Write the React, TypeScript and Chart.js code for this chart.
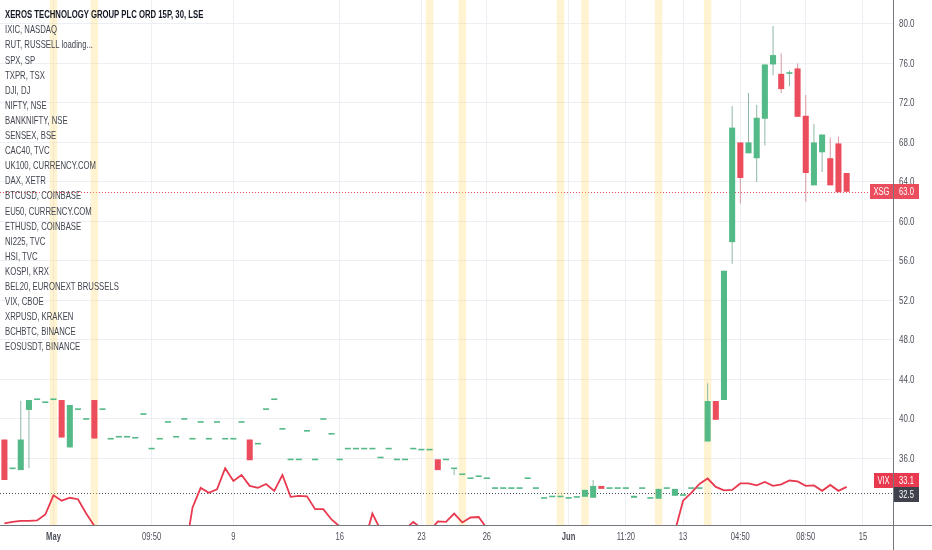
import React, { useEffect, useRef } from "react";
import { Chart, registerables } from "chart.js";

Chart.register(...registerables);

const FONT = "'Liberation Sans', Arial, sans-serif";
const NARROW = 0.76;

const LEGEND_TITLE = "XEROS TECHNOLOGY GROUP PLC ORD 15P, 30, LSE";
const LEGEND_ITEMS = [
  "IXIC, NASDAQ",
  "RUT, RUSSELL loading...",
  "SPX, SP",
  "TXPR, TSX",
  "DJI, DJ",
  "NIFTY, NSE",
  "BANKNIFTY, NSE",
  "SENSEX, BSE",
  "CAC40, TVC",
  "UK100, CURRENCY.COM",
  "DAX, XETR",
  "BTCUSD, COINBASE",
  "EU50, CURRENCY.COM",
  "ETHUSD, COINBASE",
  "NI225, TVC",
  "HSI, TVC",
  "KOSPI, KRX",
  "BEL20, EURONEXT BRUSSELS",
  "VIX, CBOE",
  "XRPUSD, KRAKEN",
  "BCHBTC, BINANCE",
  "EOSUSDT, BINANCE",
];

const SYMBOL = "XSG";
const VIX_NAME = "VIX";
const VIX_PREV = 32.5;

const OPEN = [
  37.9, 34.9, 34.8, 40.9, 41.9, 41.6, 41.9, 41.9, 37.1, 40.9,
  39.9, 41.9, 40.9, 37.9, 38.1, 38.1, 38.0, 40.4, 36.9, 37.9,
  39.6, 38.1, 39.9, 37.9, 39.6, 37.9, 39.6, 37.9, 37.9, 39.6,
  37.9, 37.4, 40.9, 41.9, 38.9, 35.8, 35.8, 38.7, 35.8, 39.9,
  38.4, 35.8, 36.9, 36.9, 36.9, 36.9, 36.0, 36.9, 35.8, 35.8,
  36.9, 36.8, 36.8, 35.9, 35.8, 34.9, 34.3, 33.9, 34.1, 33.9,
  32.9, 32.9, 32.9, 32.9, 33.9, 32.9, 31.9, 32.05, 32.05, 31.9,
  32.0, 32.1, 32.0, 33.2, 32.9, 32.9, 32.9, 32.0, 32.9, 31.9,
  31.9, 32.9, 32.2, 32.2, 32.9, 32.9, 37.7, 41.8, 41.9, 57.9,
  68.0, 66.9, 66.4, 70.4, 75.9, 74.95, 74.95, 75.5, 70.7, 63.65,
  67.0, 66.4, 67.9, 64.9,
];
const HIGH = [
  37.9, 34.9, 41.8, 41.9, 41.9, 41.6, 41.9, 41.9, 41.4, 40.9,
  39.9, 41.9, 40.9, 37.9, 38.1, 38.1, 38.0, 40.4, 36.9, 37.9,
  39.6, 38.1, 39.9, 37.9, 39.6, 37.9, 39.6, 37.9, 37.9, 39.6,
  37.9, 37.4, 40.9, 41.9, 38.9, 35.8, 35.8, 38.7, 35.8, 39.9,
  38.4, 35.8, 36.9, 36.9, 36.9, 36.9, 36.0, 36.9, 35.8, 35.8,
  36.9, 36.8, 36.8, 35.9, 35.8, 34.9, 34.3, 33.9, 34.1, 33.9,
  32.9, 32.9, 32.9, 32.9, 33.9, 32.9, 31.9, 32.05, 32.05, 31.9,
  32.0, 32.8, 33.8, 33.2, 32.9, 32.9, 32.9, 32.2, 32.9, 31.9,
  32.9, 32.9, 32.9, 32.2, 32.9, 32.9, 43.6, 41.8, 55.0, 71.7,
  68.0, 73.0, 71.8, 75.9, 79.8, 77.0, 75.3, 76.0, 72.8, 69.9,
  68.8, 68.5, 68.6, 64.9,
];
const LOW = [
  33.8, 34.9, 34.8, 35.0, 41.9, 41.6, 41.9, 38.1, 37.1, 40.9,
  39.9, 38.0, 40.9, 37.9, 38.1, 38.1, 38.0, 40.4, 36.9, 37.9,
  39.6, 38.1, 39.9, 37.9, 39.6, 37.9, 39.6, 37.9, 37.9, 39.6,
  35.8, 37.4, 40.9, 41.9, 38.9, 35.8, 35.8, 38.7, 35.8, 39.9,
  38.4, 35.8, 36.9, 36.9, 36.9, 36.9, 36.0, 36.9, 35.8, 35.8,
  36.9, 36.8, 36.8, 34.8, 35.8, 34.3, 34.3, 33.9, 34.1, 33.9,
  32.9, 32.9, 32.9, 32.9, 33.9, 32.9, 31.9, 32.05, 32.05, 31.9,
  32.0, 32.1, 32.0, 32.9, 32.9, 32.9, 32.9, 32.0, 32.9, 31.9,
  31.9, 32.9, 32.2, 32.2, 32.9, 32.9, 37.7, 39.9, 41.9, 55.7,
  61.8, 66.9, 64.0, 67.7, 74.8, 73.0, 73.7, 70.6, 62.0, 63.65,
  65.0, 63.65, 62.95, 63.0,
];
const CLOSE = [
  33.8, 34.9, 37.9, 41.9, 41.9, 41.6, 41.9, 38.1, 41.4, 40.9,
  39.9, 38.0, 40.9, 37.9, 38.1, 38.1, 38.0, 40.4, 36.9, 37.9,
  39.6, 38.1, 39.9, 37.9, 39.6, 37.9, 39.6, 37.9, 37.9, 39.6,
  35.8, 37.4, 40.9, 41.9, 38.9, 35.8, 35.8, 38.7, 35.8, 39.9,
  38.4, 35.8, 36.9, 36.9, 36.9, 36.9, 36.0, 36.9, 35.8, 35.8,
  36.9, 36.8, 36.8, 34.8, 35.8, 34.9, 34.3, 33.9, 34.1, 33.9,
  32.9, 32.9, 32.9, 32.9, 33.9, 32.9, 31.9, 32.05, 32.05, 31.9,
  32.0, 32.8, 33.2, 32.9, 32.9, 32.9, 32.9, 32.2, 32.9, 31.9,
  32.9, 32.9, 32.9, 32.2, 32.9, 32.9, 41.8, 39.9, 55.0, 69.5,
  64.4, 68.0, 70.5, 75.9, 76.85, 73.4, 75.1, 70.6, 64.9, 68.0,
  68.8, 63.65, 62.95, 63.0,
];
const VIX = [
  29.4, 29.55, 29.65, 29.65, 29.7, 30.3, 32.25, 31.7, 32.0, 31.85,
  30.4, 29.15, 28.4, 28.1, 27.6, 27.9, 28.3, 28.0, 27.5, 27.2,
  27.4, 27.0, 25.9, 31.0, 33.0, 32.5, 32.85, 35.0, 33.7, 34.3,
  33.2, 33.0, 33.4, 32.7, 34.3, 32.1, 32.2, 32.15, 30.85, 30.85,
  29.8, 29.1, 28.3, 28.0, 27.4, 30.4, 28.75, 28.2, 28.0, 28.8,
  29.55, 28.9, 28.6, 29.6, 29.55, 30.4, 29.5, 30.0, 30.05, 28.9,
  28.5, 28.2, 28.0, 27.6, 27.3, 27.0, 26.8, 27.1, 27.4, 27.2,
  26.9, 26.6, 26.4, 26.7, 26.9, 27.2, 27.5, 27.8, 28.0, 28.2,
  28.4, 28.5, 28.6, 31.7, 32.5, 33.4, 33.95, 33.1, 32.75, 32.8,
  33.45, 33.45, 33.25, 33.6, 33.2, 33.35, 33.75, 33.65, 33.2, 33.25,
  32.7, 33.3, 32.7, 33.1,
];

const HIGHLIGHT_BARS = [6, 11, 52, 56, 68, 71, 80, 86];
const X_TICK_INDEX = [6, 18, 28, 41, 51, 59, 69, 76, 83, 90, 98, 105];
const X_TICK_LABELS = ["May", "09:50", "9", "16", "23", "26", "Jun", "11:20", "13", "04:50", "08:50", "15"];
const MONTH_LABELS = ["May", "Jun"];
const Y_TICKS = [36, 40, 44, 48, 52, 56, 60, 64, 68, 72, 76, 80];

const X_MIN = -0.54;
const X_MAX = 108.67;
const Y_MIN = 29.24;
const Y_MAX = 82.43;

const UP = "#53b987";
const DOWN = "#eb4d5c";
const UP_WICK = "#8fb8a4";
const DOWN_WICK = "#d99aa2";
const VIX_COLOR = "#e8394f";
const GRID = "#eceff3";
const AXIS_TEXT = "#4c4f5a";

function narrowText(ctx: any, text: string, x: number, y: number, align: string) {
  ctx.save();
  ctx.translate(x, y);
  ctx.scale(NARROW, 1);
  ctx.textAlign = align;
  ctx.fillText(text, 0, 0);
  ctx.restore();
}

const overlayPlugin = {
  id: "tvOverlay",
  beforeDatasetsDraw(chart: any) {
    const { ctx, chartArea: a, scales } = chart;
    const ys = scales.y;
    ctx.save();
    const dotted = (v: number, color: string) => {
      const p = Math.round(ys.getPixelForValue(v)) + 0.5;
      ctx.beginPath();
      ctx.setLineDash([1, 2]);
      ctx.strokeStyle = color;
      ctx.lineWidth = 1;
      ctx.moveTo(a.left, p);
      ctx.lineTo(a.right, p);
      ctx.stroke();
    };
    dotted(CLOSE[CLOSE.length - 1], DOWN);
    dotted(VIX_PREV, "#4a4d57");
    ctx.restore();
  },
  afterDraw(chart: any) {
    const { ctx, chartArea: a, scales } = chart;
    const ys = scales.y;
    const xs = scales.x;
    ctx.save();

    ctx.strokeStyle = "#74777f";
    ctx.lineWidth = 1;
    ctx.beginPath();
    const by = Math.round(a.bottom) + 0.5;
    const rx = Math.round(a.right) + 0.5;
    ctx.moveTo(0, by);
    ctx.lineTo(chart.width, by);
    ctx.moveTo(rx, 0);
    ctx.lineTo(rx, chart.height);
    ctx.stroke();

    ctx.fillStyle = AXIS_TEXT;
    ctx.textBaseline = "middle";
    ctx.font = `10.5px ${FONT}`;
    Y_TICKS.forEach((v) => {
      const p = ys.getPixelForValue(v);
      narrowText(ctx, v.toFixed(1), a.right + 6, p + 0.5, "left");
    });
    X_TICK_INDEX.forEach((v, k) => {
      const label = X_TICK_LABELS[k];
      ctx.font = `${MONTH_LABELS.includes(label) ? "bold " : ""}10px ${FONT}`;
      const p = xs.getPixelForValue(v);
      narrowText(ctx, label, p, a.bottom + 12, "center");
    });

    ctx.font = `10px ${FONT}`;
    const H = 15;
    const box = (x: number, yc: number, w: number, bg: string, text: string) => {
      const top = Math.round(yc - H / 2);
      ctx.fillStyle = bg;
      ctx.fillRect(x, top, w, H);
      ctx.fillStyle = "#ffffff";
      narrowText(ctx, text, x + w / 2, top + H / 2 + 0.5, "center");
    };
    const valueBox = (yc: number, bg: string, v: number) => box(Math.round(a.right) + 1, yc, 25, bg, v.toFixed(1));
    const nameBox = (yc: number, bg: string, name: string) => {
      const w = Math.round(ctx.measureText(name).width * NARROW + 7);
      box(Math.round(a.right) - w, yc, w, bg, name);
    };

    const last = CLOSE[CLOSE.length - 1];
    const pC = ys.getPixelForValue(last);
    nameBox(pC, DOWN, SYMBOL);
    valueBox(pC, DOWN, last);

    const lastVix = VIX[VIX.length - 1];
    let pV = ys.getPixelForValue(lastVix);
    let pR = ys.getPixelForValue(VIX_PREV);
    if (Math.abs(pR - pV) < H) {
      const mid = (pV + pR) / 2 - 2;
      pV = mid - (H - 1) / 2;
      pR = mid + (H - 1) / 2;
    }
    nameBox(pV, VIX_COLOR, VIX_NAME);
    valueBox(pV, VIX_COLOR, lastVix);
    valueBox(pR, "#3f424c", VIX_PREV);
    ctx.restore();
  },
};

export default function App() {
  const ref = useRef<HTMLCanvasElement>(null);

  useEffect(() => {
    document.body.style.margin = "0";
    document.body.style.background = "#ffffff";
    const canvas = ref.current;
    if (!canvas) return;

    const bodies = OPEN.map((o, i) => ({ x: i, y: [Math.min(o, CLOSE[i]), Math.max(o, CLOSE[i])] }));
    const wicks = OPEN.map((_, i) => ({ x: i, y: [LOW[i], HIGH[i]] }));
    const bodyColors = OPEN.map((o, i) => (CLOSE[i] >= o ? UP : DOWN));
    const wickColors = OPEN.map((o, i) => (CLOSE[i] >= o ? UP_WICK : DOWN_WICK));
    const bands = HIGHLIGHT_BARS.map((b) => ({ x: b, y: [Y_MIN - 5, Y_MAX + 5] }));
    const vixLine = VIX.map((v, i) => ({ x: i, y: v }));

    const chart = new Chart(canvas, {
      type: "bar",
      data: {
        datasets: [
          {
            type: "line",
            label: "VIX",
            data: vixLine,
            borderColor: VIX_COLOR,
            borderWidth: 1.8,
            pointRadius: 0,
            tension: 0,
            clip: 0,
            order: 1,
          } as any,
          {
            label: "body",
            data: bodies,
            backgroundColor: bodyColors,
            grouped: false,
            barPercentage: 0.74,
            categoryPercentage: 1,
            minBarLength: 1.6,
            order: 2,
          } as any,
          {
            label: "wick",
            data: wicks,
            backgroundColor: wickColors,
            grouped: false,
            maxBarThickness: 1,
            order: 3,
          } as any,
          {
            label: "band",
            data: bands,
            backgroundColor: "rgba(255, 222, 130, 0.36)",
            grouped: false,
            barPercentage: 0.93,
            categoryPercentage: 1,
            order: 10,
          } as any,
        ],
      },
      options: {
        responsive: false,
        maintainAspectRatio: false,
        animation: false,
        devicePixelRatio: 1,
        events: [],
        layout: { padding: 0 },
        plugins: {
          legend: { display: false },
          tooltip: { enabled: false },
          title: { display: false },
        },
        scales: {
          x: {
            type: "linear",
            min: X_MIN,
            max: X_MAX,
            offset: false,
            afterBuildTicks: (s: any) => {
              s.ticks = X_TICK_INDEX.map((v) => ({ value: v }));
            },
            afterFit: (s: any) => {
              s.height = 25;
              s.paddingLeft = 0;
              s.paddingRight = 0;
            },
            ticks: { display: false },
            grid: { color: GRID, drawTicks: false, offset: false },
            border: { display: false },
          } as any,
          y: {
            type: "linear",
            position: "right",
            min: Y_MIN,
            max: Y_MAX,
            beginAtZero: false,
            afterBuildTicks: (s: any) => {
              s.ticks = Y_TICKS.map((v) => ({ value: v }));
            },
            afterFit: (s: any) => {
              s.width = 39;
              s.paddingTop = 0;
              s.paddingBottom = 0;
            },
            ticks: { display: false },
            grid: { color: GRID, drawTicks: false },
            border: { display: false },
          } as any,
        },
      },
      plugins: [overlayPlugin],
    });

    return () => chart.destroy();
  }, []);

  return (
    <div style={{ position: "relative", width: 932, height: 550, background: "#ffffff", overflow: "hidden" }}>
      <canvas ref={ref} width={932} height={550} style={{ display: "block", width: 932, height: 550 }} />
      <div
        style={{
          position: "absolute",
          left: 5,
          top: 7.3,
          fontFamily: FONT,
          fontSize: 10.2,
          lineHeight: "15.1px",
          color: "#434651",
          whiteSpace: "nowrap",
          pointerEvents: "none",
          transform: `scaleX(${NARROW})`,
          transformOrigin: "0 0",
        }}
      >
        <div style={{ fontWeight: "bold", color: "#131722" }}>{LEGEND_TITLE}</div>
        {LEGEND_ITEMS.map((t) => (
          <div key={t}>{t}</div>
        ))}
      </div>
    </div>
  );
}
